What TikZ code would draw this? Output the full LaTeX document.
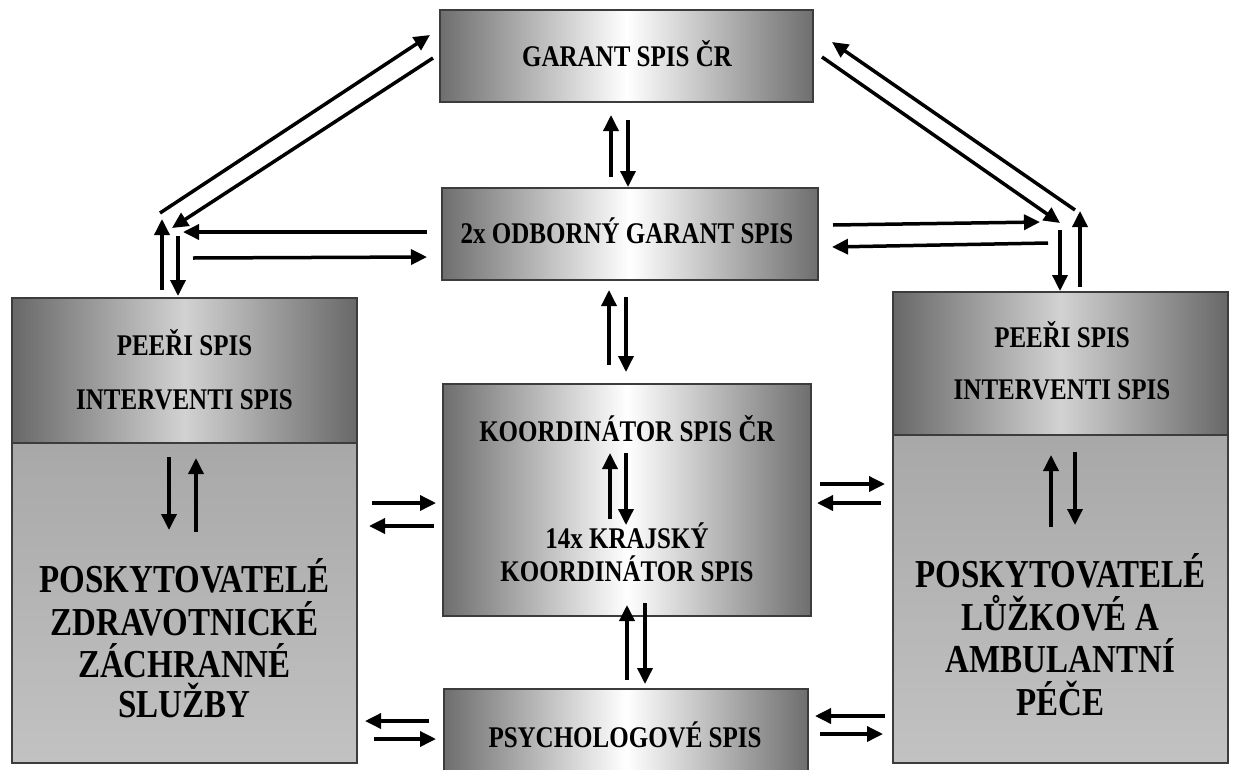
\documentclass[tikz,border=0pt]{standalone}
\usepackage{graphicx}
\usepackage{fontspec}
\setmainfont{Liberation Serif}
\usetikzlibrary{arrows.meta}
\definecolor{boxline}{HTML}{3C3C3C}
\definecolor{edgegray}{HTML}{6E6E6E}
\definecolor{hedge}{HTML}{686868}
\definecolor{hmid}{HTML}{D2D2D2}
\definecolor{btop}{HTML}{A8A8A8}
\definecolor{bbot}{HTML}{C2C2C2}
\newcommand{\stv}[1]{\scalebox{1}[1.2]{#1}}
\begin{document}
\begin{tikzpicture}[x=1pt,y=-1pt,
  box/.style={draw=boxline, line width=2.5pt, inner sep=0pt, outer sep=0pt,
    left color=edgegray, right color=edgegray, middle color=white},
  headbox/.style={draw=boxline, line width=2.5pt, inner sep=0pt, outer sep=0pt,
    left color=hedge, right color=hedge, middle color=hmid},
  bodybox/.style={draw=boxline, line width=2.5pt, inner sep=0pt, outer sep=0pt,
    top color=btop, bottom color=bbot},
  lbl/.style={font=\bfseries\fontsize{25}{30}\selectfont, inner sep=0pt, anchor=base},
  biglbl/.style={font=\bfseries\fontsize{33}{42}\selectfont, inner sep=0pt, anchor=base},
  arr/.style={line width=3.5pt, -{Triangle[length=16pt,width=15pt]}}
]
\clip (0,0) rectangle (1234,769);
\fill[white] (0,0) rectangle (1234,769);

% boxes
\node[box, minimum width=373pt, minimum height=92pt] (garant) at (626.5,56) {};
\node[box, minimum width=376pt, minimum height=92pt] (odborny) at (630,234) {};
\node[box, minimum width=368pt, minimum height=232pt] (koord) at (627,500) {};
\node[box, minimum width=364pt, minimum height=101pt] (psych) at (626,739.5) {};
\node[bodybox, minimum width=345pt, minimum height=320pt] (lbody) at (184.5,603) {};
\node[headbox, minimum width=345pt, minimum height=145pt] (lhead) at (184.5,370.5) {};
\node[bodybox, minimum width=335pt, minimum height=328pt] (rbody) at (1060.5,599) {};
\node[headbox, minimum width=335pt, minimum height=143pt] (rhead) at (1060.5,363.5) {};

% texts
\node[lbl] (tgarant) at (627,66) {\stv{GARANT SPIS ČR}};
\node[lbl] (todb) at (627,243) {\stv{2x ODBORNÝ GARANT SPIS}};
\node[lbl] (tkoord) at (627,441) {\stv{KOORDINÁTOR SPIS ČR}};
\node[lbl] (tkraj1) at (627,548) {\stv{14x KRAJSKÝ}};
\node[lbl] (tkraj2) at (627,581) {\stv{KOORDINÁTOR SPIS}};
\node[lbl] (tpsych) at (625,747) {\stv{PSYCHOLOGOVÉ SPIS}};
\node[lbl] (tlpeer) at (184.5,355) {\stv{PEEŘI SPIS}};
\node[lbl] (tlint) at (184.5,409) {\stv{INTERVENTI SPIS}};
\node[lbl] (trpeer) at (1062,347) {\stv{PEEŘI SPIS}};
\node[lbl] (trint) at (1062,399) {\stv{INTERVENTI SPIS}};
\node[biglbl] (tl1) at (184.5,592) {\stv{POSKYTOVATELÉ}};
\node[biglbl] (tl2) at (184.5,635) {\stv{ZDRAVOTNICKÉ}};
\node[biglbl] (tl3) at (184.5,677) {\stv{ZÁCHRANNÉ}};
\node[biglbl] (tl4) at (184.5,717) {\stv{SLUŽBY}};
\node[biglbl] (tr1) at (1060.5,587) {\stv{POSKYTOVATELÉ}};
\node[biglbl] (tr2) at (1060.5,630) {\stv{LŮŽKOVÉ A}};
\node[biglbl] (tr3) at (1060.5,672) {\stv{AMBULANTNÍ}};
\node[biglbl] (tr4) at (1060.5,715) {\stv{PÉČE}};

% arrows: top-left diagonal
\draw[arr] (433,58) -- (172,228);
\draw[arr] (160,213) -- (430,35);
% left vertical
\draw[arr] (162,290) -- (162,219);
\draw[arr] (178,236) -- (178,296);
% left horizontal
\draw[arr] (427,232) -- (183,232);
\draw[arr] (193,258) -- (427,257);
% top-right diagonal
\draw[arr] (822,57) -- (1060,223);
\draw[arr] (1075,210) -- (832,42);
% right horizontal
\draw[arr] (833,225) -- (1040,222);
\draw[arr] (1048,243) -- (832,247);
% right vertical
\draw[arr] (1060,230) -- (1060,291);
\draw[arr] (1080,287) -- (1080,211);
% center column
\draw[arr] (611,177) -- (611,115);
\draw[arr] (628,120) -- (628,187);
\draw[arr] (609,365) -- (609,290);
\draw[arr] (626,297) -- (626,372);
\draw[arr] (610,519) -- (610,453);
\draw[arr] (626,453) -- (626,525);
\draw[arr] (627,680) -- (627,605);
\draw[arr] (645,603) -- (645,684);
% sides of koordinator
\draw[arr] (372,503) -- (436,503);
\draw[arr] (434,526) -- (369,526);
\draw[arr] (820,484) -- (885,484);
\draw[arr] (881,503) -- (817,503);
% sides of psychologove
\draw[arr] (429,721) -- (365,721);
\draw[arr] (374,739) -- (436,739);
\draw[arr] (885,716) -- (815,716);
\draw[arr] (820,734) -- (883,734);
% inside big boxes
\draw[arr] (169,457) -- (169,530);
\draw[arr] (196,532) -- (196,458);
\draw[arr] (1051,527) -- (1051,455);
\draw[arr] (1075,452) -- (1075,525);
\end{tikzpicture}
\end{document}
